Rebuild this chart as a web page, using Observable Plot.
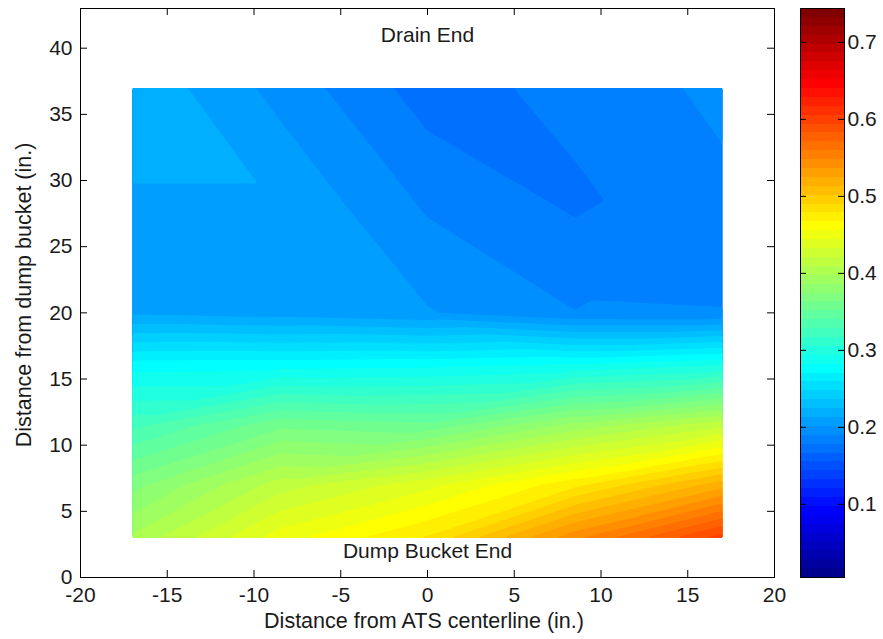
<!DOCTYPE html>
<html>
<head>
<meta charset="utf-8">
<script src="https://cdn.jsdelivr.net/npm/d3@7"></script>
<script src="https://cdn.jsdelivr.net/npm/@observablehq/plot@0.6"></script>
<style>
  body { margin: 0; background: #fff; }
  #chart { position: relative; width: 883px; height: 639px; }
  #chart svg { position: absolute; left: 0; top: 0; }
</style>
</head>
<body>
<div id="chart"></div>
<script>
// Measurement grid (inches): columns across the ATS centerline, rows from the dump bucket
const colsX = [-17, -8.5, 0, 8.5, 17];
const rowsY = [3, 7, 11.5, 16, 20, 28.5, 37];

// Measured values, one list per row (left to right)
const row03 = [0.400, 0.450, 0.480, 0.545, 0.600];
const row07 = [0.370, 0.415, 0.440, 0.475, 0.520];
const row11 = [0.325, 0.360, 0.355, 0.390, 0.418];
const row16 = [0.277, 0.278, 0.280, 0.285, 0.295];
const row20 = [0.2106, 0.2071, 0.2022, 0.1901, 0.1899];
const row28 = [0.2112, 0.2112, 0.1875, 0.1760, 0.1870];
const row37 = [0.2221, 0.1973, 0.1725, 0.1823, 0.1925];
const rows = [row03, row07, row11, row16, row20, row28, row37];

// Axis ticks and labels
const xTicks = [-20, -15, -10, -5, 0, 5, 10, 15, 20];
const yTicks = [0, 5, 10, 15, 20, 25, 30, 35, 40];
const cbTicks = [0.1, 0.2, 0.3, 0.4, 0.5, 0.6, 0.7];
const xLabel = "Distance from ATS centerline (in.)";
const yLabel = "Distance from dump bucket (in.)";
const notes = [
  {x: 0, y: 41, text: "Drain End"},
  {x: 0, y: 2, text: "Dump Bucket End"}
];

// Colour limits; contour levels sit on the colormap's 64 steps
const cmin = 0.005, cmax = 0.744;
const nColors = 64;
const step = (cmax - cmin) / nColors;
const levels = d3.range(14, 53).map(k => cmin + k * step);

// MATLAB-style 64-entry jet colormap
function jetU(j) { return j <= 16 ? j / 16 : j <= 31 ? 1 : (48 - j) / 16; }
function jet(t) {
  const k = Math.max(1, Math.min(64, Math.floor(t * 64 + 1e-9) + 1));
  const r = k >= 25 ? jetU(k - 24) : 0;
  const g = k >= 9 && k <= 55 ? jetU(k - 8) : 0;
  const b = k <= 39 ? jetU(k + 8) : 0;
  return `rgb(${Math.round(r * 255)},${Math.round(g * 255)},${Math.round(b * 255)})`;
}
const colorScale = {type: "linear", domain: [cmin, cmax], interpolate: jet};

// Grid nodes as records
const points = rowsY.flatMap((y, r) => colsX.map((x, c) => ({x, y, v: rows[r][c]})));

// Linear interpolation over the grid, each cell split into two triangles
// along the diagonal whose end values agree best
function locate(p, q) {
  const n = p.length;
  const asc = p[n - 1] > p[0];
  for (let s = 0; s < n - 1; ++s) {
    const a = p[s], b = p[s + 1];
    if ((asc ? q <= b : q >= b) || s === n - 2) {
      const t = (q - a) / (b - a);
      return [s, Math.max(0, Math.min(1, t))];
    }
  }
  return [0, 0];
}
function triangulated(index, w, h, X, Y, V) {
  const nc = colsX.length, nr = rowsY.length;
  const px = d3.range(nc).map(c => X[index[c]]);
  const py = d3.range(nr).map(r => Y[index[r * nc]]);
  const val = (r, c) => V[index[r * nc + c]];
  const out = new Float64Array(w * h);
  const cx = d3.range(w).map(i => locate(px, i + 0.5));
  for (let j = 0; j < h; ++j) {
    const [r, ty] = locate(py, j + 0.5);
    for (let i = 0; i < w; ++i) {
      const [c, tx] = cx[i];
      const a = val(r, c), b = val(r, c + 1), d = val(r + 1, c), e = val(r + 1, c + 1);
      let v;
      if (Math.abs(a - e) <= Math.abs(b - d)) {
        v = tx >= ty ? a + tx * (b - a) + ty * (e - b) : a + ty * (d - a) + tx * (e - d);
      } else {
        v = tx + ty <= 1 ? a + tx * (b - a) + ty * (d - a) : e + (1 - tx) * (d - e) + (1 - ty) * (b - e);
      }
      out[j * w + i] = v;
    }
  }
  return out;
}

const W = 883, H = 639;
const fL = 80, fR = 774, fT = 8, fB = 577;
const tick = 7;
const style = {
  fontFamily: '"Liberation Sans", Arial, Helvetica, sans-serif',
  fontSize: "21px",
  color: "#1a1a1a",
  background: "transparent",
  overflow: "visible"
};

const main = Plot.plot({
  width: W, height: H,
  marginLeft: fL, marginRight: W - fR, marginTop: fT, marginBottom: H - fB,
  style,
  x: {domain: [-20, 20]},
  y: {domain: [0, 43]},
  color: colorScale,
  marks: [
    Plot.contour(points, {
      x: "x", y: "y", fill: "v",
      interpolate: triangulated, thresholds: levels,
      x1: -17, x2: 17, y1: 3, y2: 37,
      stroke: "none"
    }),
    Plot.ruleX(xTicks, {x: d => d, insetTop: (fB - fT) - tick, stroke: "#000"}),
    Plot.ruleX(xTicks, {x: d => d, insetBottom: (fB - fT) - tick, stroke: "#000"}),
    Plot.ruleY(yTicks, {y: d => d, insetRight: (fR - fL) - tick, stroke: "#000"}),
    Plot.ruleY(yTicks, {y: d => d, insetLeft: (fR - fL) - tick, stroke: "#000"}),
    Plot.frame({stroke: "#000"}),
    Plot.axisX(xTicks, {tickSize: 0, tickPadding: 10, tickFormat: d => String(d), label: null}),
    Plot.axisY(yTicks, {tickSize: 0, tickPadding: 8, tickFormat: d => String(d), label: null}),
    Plot.text(notes, {x: "x", y: "y", text: "text", lineAnchor: "middle", textAnchor: "middle"}),
    Plot.text([xLabel], {text: d => d, frameAnchor: "bottom", dy: 44, dx: -3.5, fontSize: 21.5, lineAnchor: "middle", textAnchor: "middle"}),
    Plot.text([yLabel], {text: d => d, frameAnchor: "left", dx: -56, dy: 2, fontSize: 21.5, rotate: -90, lineAnchor: "middle", textAnchor: "middle"})
  ]
});

// Colour bar: one band per colormap entry
const cbL = 800, cbR = 844;
const bands = d3.range(nColors).map(k => ({lo: cmin + k * step, hi: cmin + (k + 1) * step, mid: cmin + (k + 0.5) * step}));
const cbTick = 6;

const bar = Plot.plot({
  width: W, height: H,
  marginLeft: cbL, marginRight: W - cbR, marginTop: fT, marginBottom: H - fB,
  style,
  x: {domain: [0, 1], axis: null},
  y: {domain: [cmin, cmax], axis: null},
  color: colorScale,
  marks: [
    Plot.rect(bands, {y1: "lo", y2: "hi", fill: "mid", shapeRendering: "crispEdges"}),
    Plot.ruleY(cbTicks, {y: d => d, insetRight: (cbR - cbL) - cbTick, stroke: "#000"}),
    Plot.ruleY(cbTicks, {y: d => d, insetLeft: (cbR - cbL) - cbTick, stroke: "#000"}),
    Plot.frame({stroke: "#000"}),
    Plot.axisY(cbTicks, {anchor: "right", tickSize: 0, tickPadding: 3, tickFormat: d => d.toFixed(1), label: null})
  ]
});

const chart = document.getElementById("chart");
chart.append(main, bar);
</script>
</body>
</html>
